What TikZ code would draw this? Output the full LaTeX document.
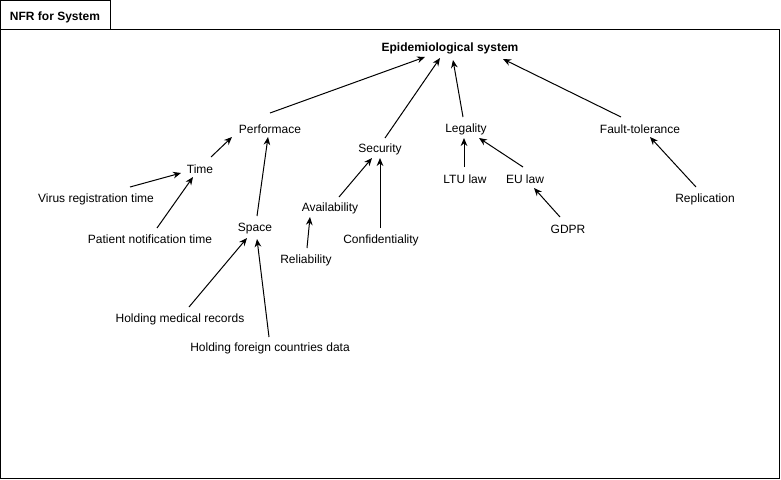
\documentclass[tikz,border=0pt]{standalone}
\usepackage{fontspec}
\setmainfont{Liberation Sans}
\usepackage{tikz}
\usetikzlibrary{arrows.meta}

\begin{document}
\begin{tikzpicture}[x=0.75pt,y=-0.75pt,
	lbl/.style={inner sep=0pt,font=\fontsize{9pt}{11pt}\selectfont},
	arr/.style={-{Stealth[length=6pt,width=5pt]},line width=0.75pt}]
	
	\useasboundingbox (0,0) rectangle (781,479);
	% frame
	\draw[line width=0.75pt] (0.5,29.5) rectangle (779.5,478.5);
	\draw[line width=0.75pt] (0.5,0.5) rectangle (110.5,29.5);
	\node[lbl,font=\fontsize{9pt}{11pt}\selectfont\bfseries] (frame) at (55,17) {NFR for System};
	
	\node[lbl,font=\fontsize{9pt}{11pt}\selectfont\bfseries] (epi) at (450,48) {Epidemiological system};
	
	\node[lbl] (perf)    at (270,129) {Performace};
	\node[lbl] (time)    at (200,169) {Time};
	\node[lbl] (virus)   at (96,199)  {Virus registration time};
	\node[lbl] (patient) at (150,239) {Patient notification time};
	\node[lbl] (space)   at (255,229) {Space};
	\node[lbl] (hmr)     at (180,319) {Holding medical records};
	\node[lbl] (hfcd)    at (270,348) {Holding foreign countries data};
	
	\node[lbl] (sec)     at (380,149) {Security};
	\node[lbl] (avail)   at (330,208) {Availability};
	\node[lbl] (reliab)  at (306,260) {Reliability};
	\node[lbl] (conf)    at (381,240) {Confidentiality};
	
	\node[lbl] (legal)   at (466,129) {Legality};
	\node[lbl] (ltu)     at (465,179) {LTU law};
	\node[lbl] (eu)      at (525,179) {EU law};
	\node[lbl] (gdpr)    at (568,229) {GDPR};
	
	\node[lbl] (fault)   at (640,129) {Fault-tolerance};
	\node[lbl] (repl)    at (705,199) {Replication};
	
	
	\path[arr] ([shift={(0,-16)}]perf.center) edge ([shift={(-25,9)}]epi.center);
	\path[arr] ([shift={(5,-11)}]sec.center) edge ([shift={(-10,10)}]epi.center);
	\path[arr] ([shift={(-3,-12)}]legal.center) edge ([shift={(3,12)}]epi.center);
	\path[arr] ([shift={(-19,-12)}]fault.center) edge ([shift={(53,11)}]epi.center);
	
	\path[arr] ([shift={(11,-12)}]time.center) edge ([shift={(-38,8)}]perf.center);
	\path[arr] ([shift={(34,-12)}]virus.center) edge ([shift={(-19,4)}]time.center);
	\path[arr] ([shift={(7,-11)}]patient.center) edge ([shift={(-7,8)}]time.center);
	\path[arr] ([shift={(2,-13)}]space.center) edge ([shift={(-2,8)}]perf.center);
	\path[arr] ([shift={(9,-12)}]hmr.center) edge ([shift={(-8,9)}]space.center);
	\path[arr] ([shift={(-1,-11)}]hfcd.center) edge ([shift={(2,10)}]space.center);
	
	\path[arr] ([shift={(9,-11)}]avail.center) edge ([shift={(-8,9)}]sec.center);
	\path[arr] ([shift={(1,-12)}]reliab.center) edge ([shift={(-20,9)}]avail.center);
	\path[arr] ([shift={(-1,-12)}]conf.center) edge ([shift={(0,9)}]sec.center);
	
	\path[arr] ([shift={(-1,-12)}]ltu.center) edge ([shift={(-2,9)}]legal.center);
	\path[arr] ([shift={(-2,-12)}]eu.center) edge ([shift={(13,9)}]legal.center);
	\path[arr] ([shift={(-8,-12)}]gdpr.center) edge ([shift={(9,9)}]eu.center);
	
	\path[arr] ([shift={(-9,-12)}]repl.center) edge ([shift={(10,8)}]fault.center);
	
\end{tikzpicture}
\end{document}
